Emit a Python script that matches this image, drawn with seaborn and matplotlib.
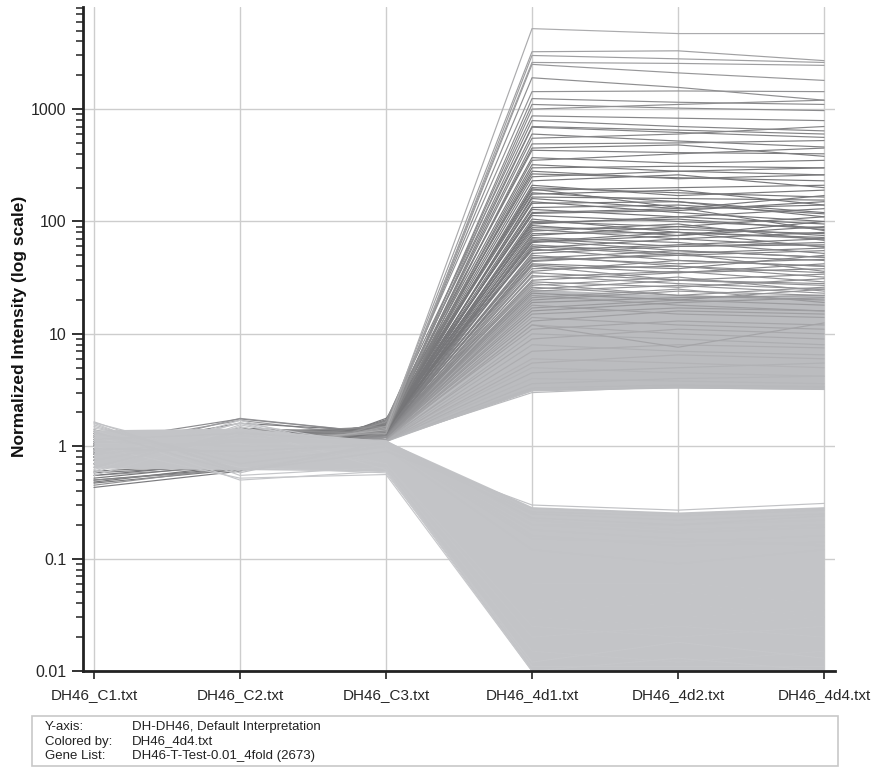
import numpy as np
import pandas as pd
import matplotlib
matplotlib.use("Agg")
import matplotlib.pyplot as plt
from matplotlib.colors import LinearSegmentedColormap
from matplotlib.patches import Rectangle
import seaborn as sns

# ---------------- data ----------------
samples = ["DH46_C1.txt", "DH46_C2.txt", "DH46_C3.txt",
           "DH46_4d1.txt", "DH46_4d2.txt", "DH46_4d4.txt"]

# up-regulated genes (values per sample)
up_c1 = [0.9, 1.2, 0.8, 1.0, 1.1, 0.7, 0.45, 1.3, 0.95, 0.5,
         1.1, 0.85, 1.4, 0.75, 1.0, 0.6, 1.2, 0.48, 0.9, 1.3,
         0.8, 1.05, 0.55, 0.95, 1.25, 0.7, 1.0, 0.9, 0.43, 1.1,
         0.8, 1.35, 1.0, 0.65, 1.2, 0.9, 1.15, 0.75, 1.0, 0.85,
         1.3, 0.7, 1.1, 0.95, 1.25, 0.8, 1.0, 0.7, 1.2, 0.9,
         1.1, 0.85, 1.0, 1.15, 0.75, 0.95, 1.05, 0.9, 1.1, 1.0,
         0.52, 1.2, 0.88, 1.0, 0.58, 1.3, 0.9, 1.1, 0.8, 0.5,
         1.0, 1.2, 0.95, 0.7, 1.05,
         0.9, 1.1, 0.8, 1.0, 0.7, 1.2, 0.95, 0.85, 1.05, 0.75,
         1.15, 0.9, 1.0, 0.8, 1.1, 0.95, 0.7, 1.2, 0.85, 1.0,
         0.9, 1.1, 0.8, 1.05, 0.95, 0.75, 1.0, 0.9, 1.15, 0.85,
         1.0, 0.55, 0.9, 1.1, 0.47]
up_c2 = [1.0, 0.8, 1.2, 0.9, 1.0, 1.3, 0.65, 0.85, 1.1, 0.62,
         0.95, 1.25, 0.75, 1.4, 1.0, 0.7, 0.9, 0.68, 1.2, 0.7,
         1.45, 1.0, 0.72, 1.3, 0.8, 1.4, 0.75, 1.1, 0.6, 1.75,
         0.9, 0.75, 1.2, 1.35, 0.85, 1.0, 0.7, 1.3, 1.1, 1.77,
         0.8, 1.2, 0.95, 1.05, 0.75, 1.3, 1.0, 1.4, 0.85, 1.15,
         0.8, 1.25, 0.9, 1.0, 1.4, 1.1, 0.8, 1.2, 0.95, 1.0,
         0.7, 0.9, 1.3, 1.0, 0.68, 0.8, 1.2, 1.0, 1.4, 0.64,
         0.95, 1.1, 1.6, 1.2, 0.9,
         1.0, 0.85, 1.2, 0.9, 1.3, 0.8, 1.05, 1.15, 0.9, 1.25,
         0.85, 1.0, 1.1, 1.35, 0.8, 0.95, 1.2, 0.85, 1.1, 1.0,
         1.15, 0.9, 1.3, 0.85, 1.0, 1.2, 0.9, 1.05, 0.8, 1.1,
         1.7, 0.66, 1.0, 0.9, 0.62]
up_c3 = [1.4, 1.5, 1.3, 1.45, 1.35, 1.5, 1.65, 1.3, 1.4, 1.7,
         1.5, 1.35, 1.45, 1.3, 1.6, 1.55, 1.4, 1.72, 1.35, 1.5,
         1.3, 1.45, 1.6, 1.4, 1.35, 1.3, 1.5, 1.25, 1.77, 1.3,
         1.4, 1.35, 1.25, 1.3, 1.2, 1.3, 1.25, 1.2, 1.15, 1.3,
         1.2, 1.25, 1.2, 1.15, 1.2, 1.15, 1.2, 1.12, 1.15, 1.12,
         1.1, 1.15, 1.1, 1.12, 1.1, 1.12, 1.1, 1.12, 1.15, 1.1,
         1.6, 1.45, 1.4, 1.5, 1.62, 1.5, 1.4, 1.45, 1.3, 1.68,
         1.4, 1.5, 1.35, 1.4, 1.3,
         1.5, 1.45, 1.4, 1.55, 1.4, 1.5, 1.35, 1.45, 1.4, 1.5,
         1.35, 1.4, 1.3, 1.45, 1.4, 1.35, 1.3, 1.4, 1.3, 1.35,
         1.3, 1.25, 1.3, 1.25, 1.3, 1.2, 1.25, 1.2, 1.25, 1.2,
         1.2, 1.15, 1.6, 1.55, 1.5]
up_d1 = [5200, 3240, 3000, 2600, 2500, 1900, 1430, 1240, 1100, 870,
         790, 690, 600, 490, 430, 370, 300, 265, 200, 195,
         165, 133, 113, 88, 78, 70, 65, 60, 55, 50,
         47, 42, 40, 36, 33, 30, 28, 25, 12, 22,
         20, 18, 16, 14, 13, 12, 11, 10, 9, 8,
         7, 6, 5.5, 5, 4.5, 4, 3.6, 3.3, 3.0, 3.2,
         190, 150, 120, 95, 85, 250, 350, 550, 1000, 180,
         75, 68, 100, 58, 45,
         280, 230, 210, 175, 160, 145, 128, 118, 105, 98,
         92, 82, 72, 66, 62, 57, 52, 48, 44, 41,
         38, 35, 32, 29, 27, 26, 24, 23, 21, 19,
         17, 15, 700, 450, 320]
up_d2 = [4700, 3300, 2800, 2550, 2100, 1560, 1450, 1150, 1020, 830,
         700, 620, 520, 500, 410, 330, 310, 245, 180, 133,
         160, 140, 100, 85, 80, 60, 75, 50, 62, 40,
         55, 38, 30, 45, 28, 35, 22, 30, 7.6, 18,
         24, 15, 19, 12, 16, 10, 13, 9, 11, 7,
         8, 5.5, 6.5, 4.5, 5, 3.8, 4, 3.5, 3.4, 3.3,
         200, 120, 130, 110, 70, 280, 400, 600, 1100, 150,
         90, 55, 90, 70, 50,
         240, 260, 170, 190, 130, 150, 110, 125, 80, 105,
         75, 95, 65, 80, 52, 45, 60, 42, 52, 35,
         40, 30, 36, 26, 32, 22, 27, 20, 25, 21,
         20, 17, 650, 480, 280]
up_d4 = [4700, 2700, 2600, 2450, 1800, 1200, 1430, 1100, 970, 790,
         640, 560, 460, 525, 400, 350, 300, 230, 165, 83,
         155, 117, 88, 78, 59, 65, 90, 45, 70, 35,
         48, 50, 28, 40, 25, 38, 20, 27, 12.5, 16,
         22, 14, 21, 11, 15, 9, 12, 8, 10, 6.5,
         7.5, 5, 6, 4.2, 5.5, 3.6, 4.2, 3.4, 3.3, 3.2,
         210, 100, 140, 130, 60, 300, 450, 700, 1200, 120,
         110, 48, 75, 80, 55,
         260, 200, 190, 140, 170, 110, 95, 150, 70, 85,
         100, 68, 52, 72, 58, 40, 62, 46, 36, 42,
         32, 34, 29, 31, 24, 26, 23, 25, 19, 22,
         18, 16, 600, 380, 260]

# down-regulated genes
dn_c1 = [1.65, 1.5, 1.3, 1.1, 1.0, 0.9, 0.8, 0.7, 0.6, 0.55,
         1.6, 1.4, 1.2, 0.95, 0.85, 0.75, 0.65, 1.25, 1.45, 1.05,
         1.55, 0.58, 1.35, 0.62, 1.2, 0.9, 1.62, 0.7, 1.0, 1.15]
dn_c2 = [0.6, 0.7, 0.8, 1.0, 1.2, 1.4, 1.6, 1.7, 1.5, 1.3,
         0.55, 0.5, 0.65, 0.9, 1.1, 1.25, 1.35, 0.75, 0.85, 1.05,
         0.62, 1.55, 0.58, 1.45, 1.0, 1.15, 0.75, 1.62, 0.52, 1.3]
dn_c3 = [0.9, 1.0, 1.1, 1.0, 0.95, 0.9, 0.85, 0.8, 0.75, 0.7,
         0.65, 0.6, 0.58, 1.05, 1.1, 1.0, 0.95, 0.85, 0.8, 0.7,
         1.0, 0.9, 1.1, 0.62, 0.9, 1.08, 0.68, 0.98, 0.56, 1.12]
dn_d1 = [0.30, 0.25, 0.2, 0.15, 0.1, 0.08, 0.06, 0.04, 0.03, 0.02,
         0.015, 0.01, 0.012, 0.28, 0.22, 0.18, 0.12, 0.05, 0.035, 0.025,
         0.2, 0.09, 0.26, 0.011, 0.07, 0.16, 0.03, 0.11, 0.01, 0.23]
dn_d2 = [0.27, 0.22, 0.2, 0.14, 0.11, 0.07, 0.06, 0.05, 0.03, 0.025,
         0.012, 0.01, 0.018, 0.25, 0.18, 0.15, 0.09, 0.04, 0.04, 0.02,
         0.17, 0.1, 0.24, 0.011, 0.08, 0.13, 0.025, 0.12, 0.013, 0.2]
dn_d4 = [0.31, 0.25, 0.22, 0.16, 0.1, 0.09, 0.05, 0.04, 0.035, 0.02,
         0.015, 0.01, 0.013, 0.28, 0.2, 0.13, 0.12, 0.06, 0.03, 0.025,
         0.19, 0.08, 0.27, 0.011, 0.07, 0.14, 0.03, 0.1, 0.01, 0.24]

# dense-band envelopes (edges of the solid regions)
dn_band_lo = [0.64, 0.62, 0.6, 0.01, 0.01, 0.01]
dn_band_hi = [1.40, 1.45, 1.12, 0.29, 0.26, 0.29]
up_band_lo = [1.12, 3.1, 3.3, 3.2]
up_band_hi = [1.5, 25, 22, 22]

yticks = [0.01, 0.1, 1, 10, 100, 1000]
ytick_labels = ["0.01", "0.1", "1", "10", "100", "1000"]

legend_rows = [("Y-axis:", "DH-DH46, Default Interpretation"),
               ("Colored by:", "DH46_4d4.txt"),
               ("Gene List:", "DH46-T-Test-0.01_4fold (2673)")]

# ---------------- build long tables ----------------
xpos = list(range(len(samples)))


def long_table(cols, start):
    rows = []
    for g, vals in enumerate(cols):
        for xi, v in zip(xpos, vals):
            rows.append({"gene": start + g, "x": xi, "value": v,
                         "color_by": np.log10(vals[-1])})
    return pd.DataFrame(rows)


df_up = long_table(list(zip(up_c1, up_c2, up_c3, up_d1, up_d2, up_d4)), 0)
df_dn = long_table(list(zip(dn_c1, dn_c2, dn_c3, dn_d1, dn_d2, dn_d4)), 1000)

# ---------------- plot ----------------
sns.set_theme(style="white")
plt.rcParams["font.family"] = ["Liberation Sans", "DejaVu Sans"]

fig = plt.figure(figsize=(8.84, 7.68), dpi=100)
ax = fig.add_axes([83 / 884, 1 - 671 / 768, (835 - 83) / 884, (671 - 7) / 768])
ax.set_yscale("log")

cmap = LinearSegmentedColormap.from_list(
    "gen", [(0.0, "#c6c7ca"), (0.262, "#c1c2c5"), (0.437, "#b9babd"),
            (0.524, "#a9a9ac"), (0.612, "#8e8e91"), (0.699, "#747477"),
            (0.787, "#7b7b7d"), (0.874, "#8a8a8c"), (1.0, "#adadaf")])

# up-regulated: dense band then individual lines
ax.fill_between(xpos[2:], up_band_lo, up_band_hi, color="#bbbcbf", lw=0, zorder=1)
sns.lineplot(data=df_up, x="x", y="value", units="gene", estimator=None, sort=False,
             hue="color_by", hue_norm=(-2, 3.72), palette=cmap, legend=False,
             lw=0.85, ax=ax, zorder=2)
# down-regulated: dense band drawn over, then lines
ax.fill_between(xpos, dn_band_lo, dn_band_hi, color="#c3c4c7", lw=0, zorder=3)
sns.lineplot(data=df_dn, x="x", y="value", units="gene", estimator=None, sort=False,
             hue="color_by", hue_norm=(-2, 3.72), palette=cmap, legend=False,
             lw=0.85, ax=ax, zorder=4)

ax.set_xlim(-0.075, 5.075)
ax.set_ylim(0.01, 8100)
ax.set_xticks(xpos)
ax.set_xticklabels(samples, fontsize=11)
ax.set_yticks(yticks)
ax.set_yticklabels(ytick_labels, fontsize=11.5)
ax.yaxis.set_minor_locator(matplotlib.ticker.LogLocator(base=10, subs=np.arange(2, 10)))
ax.yaxis.set_minor_formatter(matplotlib.ticker.NullFormatter())
ax.tick_params(axis="y", which="major", direction="out", length=8, width=1.3,
               color="#222222", left=True, pad=4)
ax.tick_params(axis="y", which="minor", direction="out", length=5, width=1.1,
               color="#222222", left=True)
ax.tick_params(axis="x", which="major", direction="out", length=6, width=1.2,
               color="#222222", bottom=True, pad=6)
ax.set_xlabel("")
ax.set_ylabel("")
fig.text(20 / 884, 1 - 326 / 768, "Normalized Intensity (log scale)", rotation=90,
         fontsize=12.5, fontweight="bold", ha="center", va="center", color="#111111")
ax.grid(True, which="major", color="#cdcdcd", lw=1.0)
ax.set_axisbelow(True)
for s in ("top", "right"):
    ax.spines[s].set_visible(False)
for s in ("left", "bottom"):
    ax.spines[s].set_color("#222222")
    ax.spines[s].set_linewidth(2)
    ax.spines[s].set_zorder(6)

# info box
fig.patches.append(Rectangle((32 / 884, 2 / 768), (838 - 32) / 884, (766 - 716) / 768,
                             transform=fig.transFigure, fill=False,
                             edgecolor="#c8c8c8", lw=1.2))
for i, (k, v) in enumerate(legend_rows):
    yy = 1 - (727 + 14.5 * i) / 768
    fig.text(45 / 884, yy, k, fontsize=9.5, va="center", color="#222222")
    fig.text(132 / 884, yy, v, fontsize=9.5, va="center", color="#222222")

fig.savefig("out.png", dpi=100)
